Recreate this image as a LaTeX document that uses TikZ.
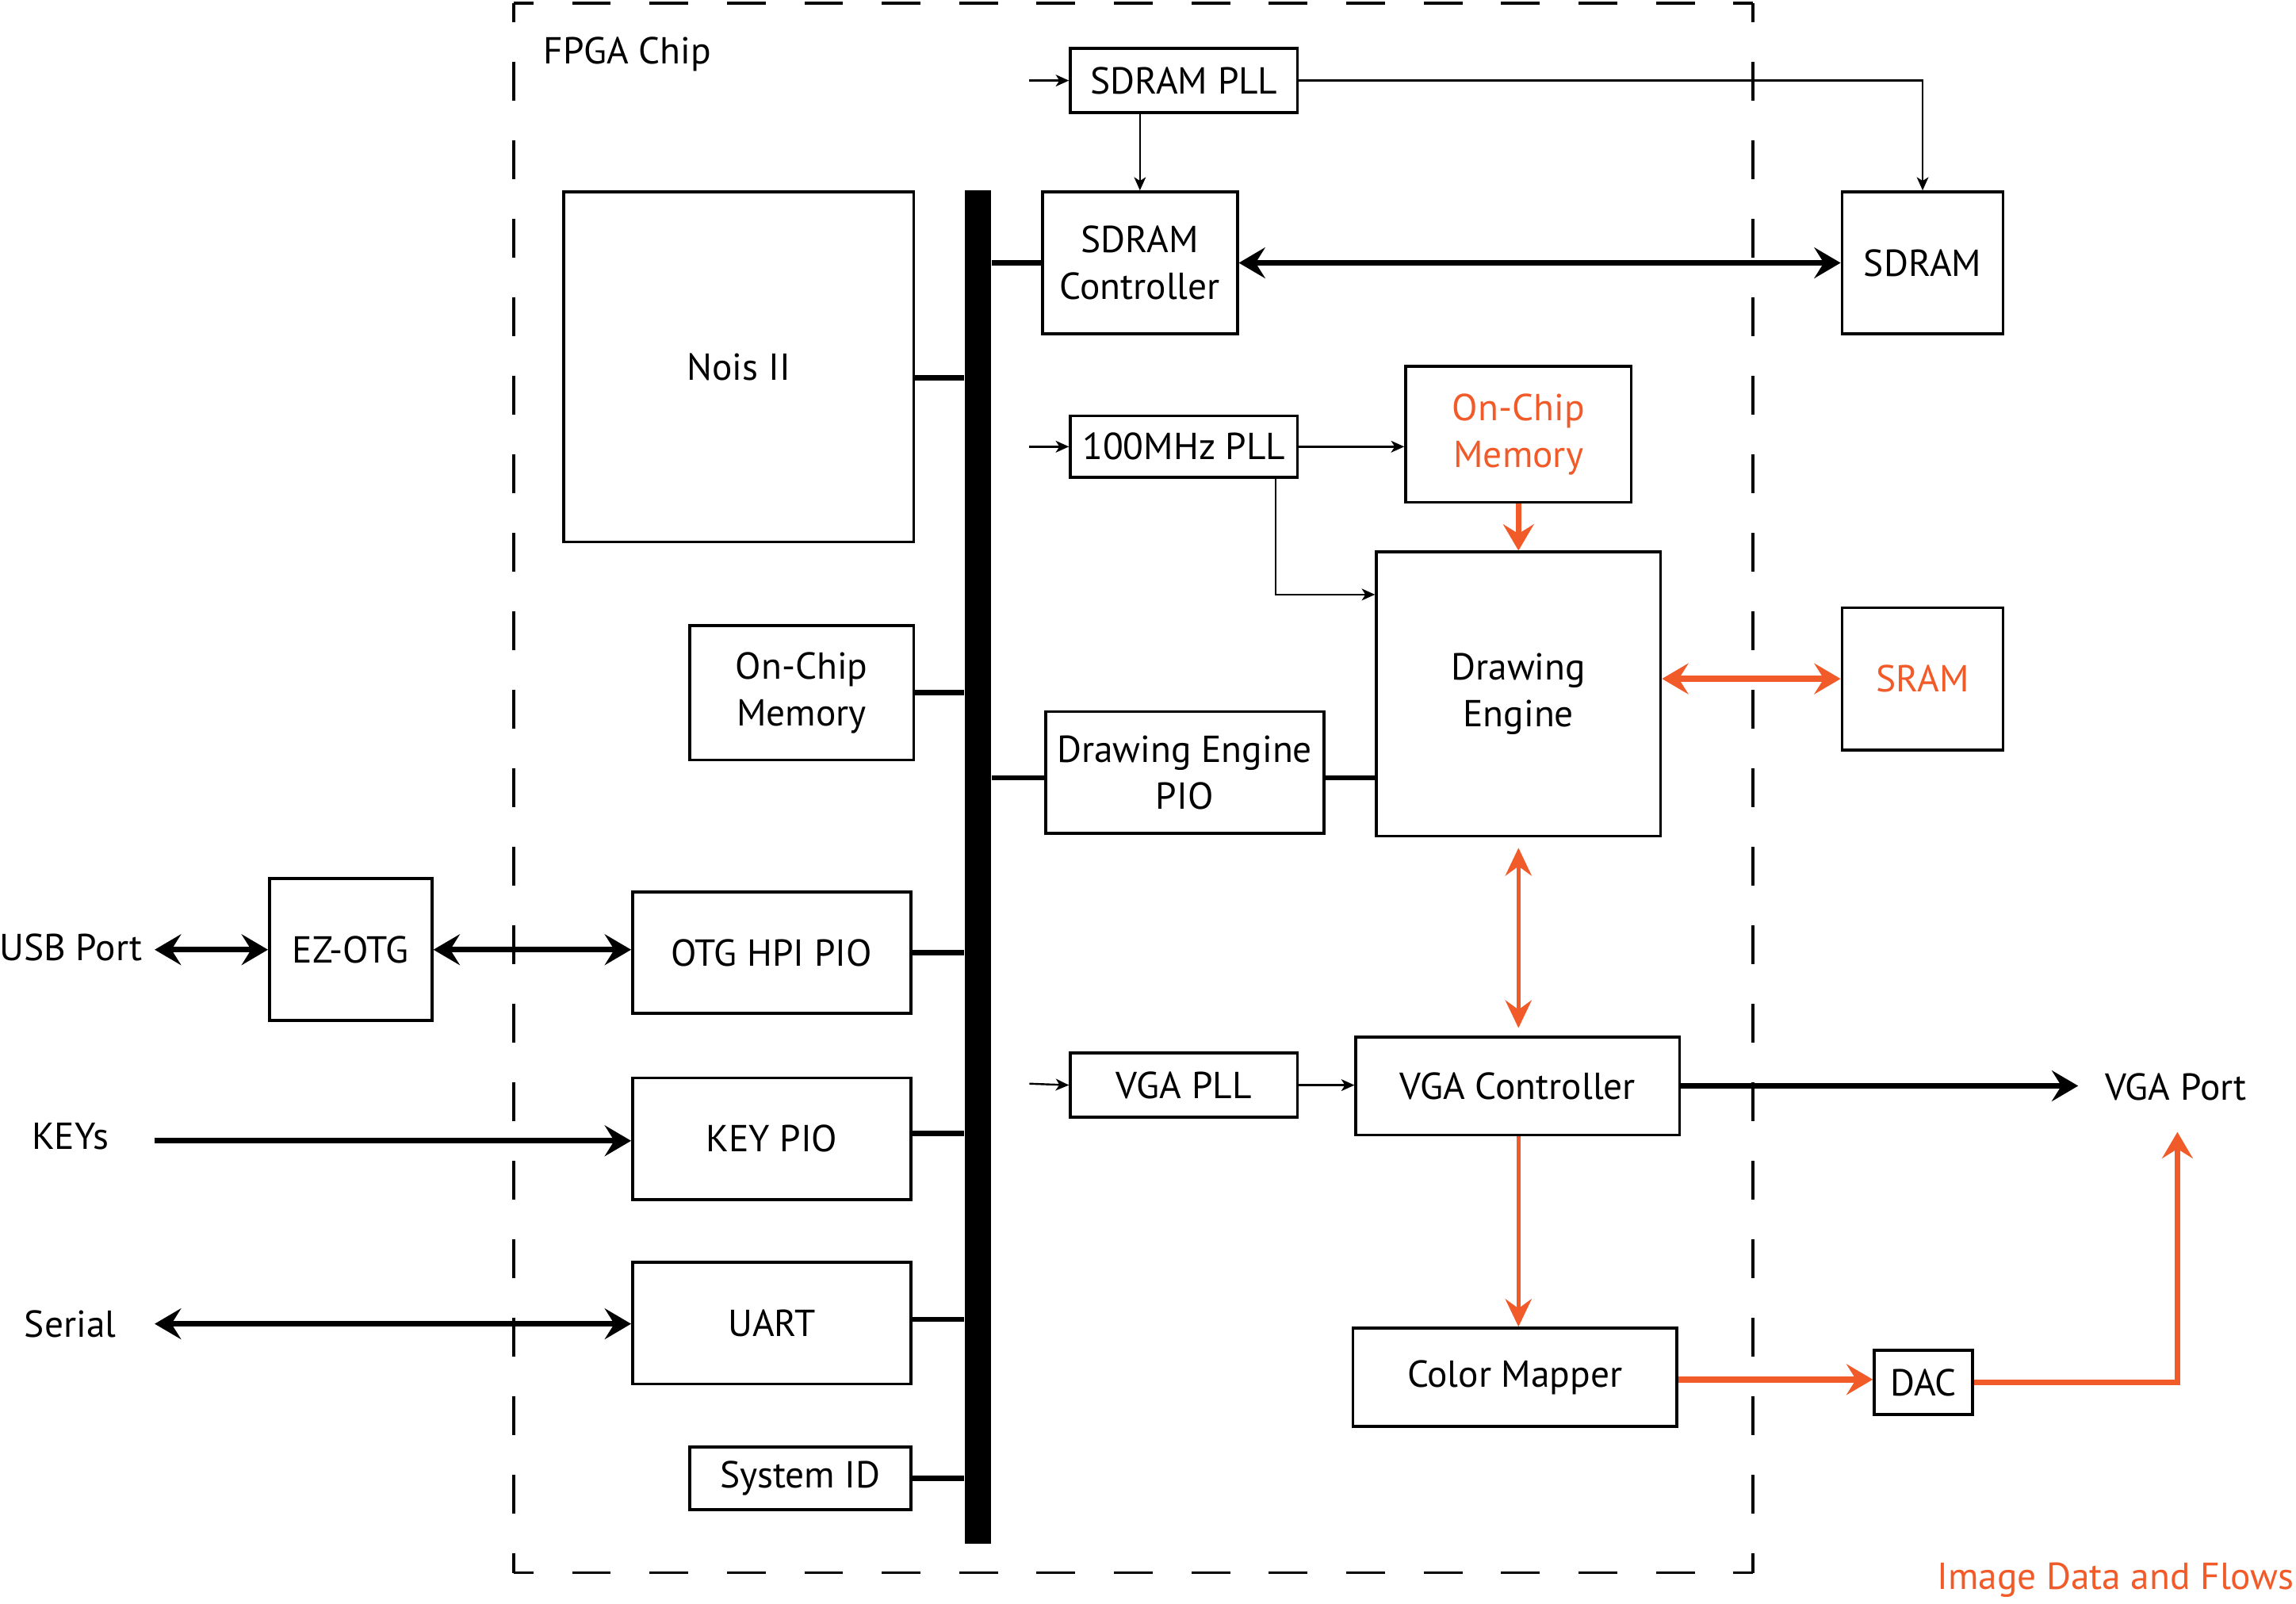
\documentclass[tikz,border=0pt]{standalone}
\usepackage{fontspec}
\setmainfont{PT Sans}
\usetikzlibrary{arrows.meta}
\definecolor{flow}{RGB}{241,90,41}
\begin{document}
\begin{tikzpicture}[x=0.2mm,y=-0.2mm,
  font=\fontsize{14.6}{18.2}\selectfont,
  blk/.style={draw,line width=0.4mm,align=center,inner sep=0pt},
  lbl/.style={inner sep=1.6mm},
  busbar/.style={fill=black,draw=none,inner sep=0pt},
  stub/.style={line width=0.7mm},
  hside/.style={line width=0.4mm,dash pattern=on 5.2875mm off 5.2875mm,dash phase=2.644mm},
  vside/.style={line width=0.4mm,dash pattern=on 5.36mm off 5.36mm,dash phase=2.68mm},
  clk/.style={line width=0.26mm,>={Stealth[length=1.8mm,width=1.6mm,inset=0.5mm]},->},
  sig/.style={line width=0.8mm,>={Stealth[length=3.6mm,width=4.2mm,inset=1.3mm]}},
  img/.style={draw=flow,line width=0.8mm,>={Stealth[length=3.6mm,width=4.2mm,inset=1.3mm]}},
  imgthin/.style={draw=flow,line width=0.55mm,>={Stealth[length=3.8mm,width=3.6mm,inset=1.3mm]}}
]
\useasboundingbox (0,0) rectangle (1568,1095);

% FPGA boundary, each side dashed so that the corners are solid
\coordinate (fTL) at (351,2);
\coordinate (fTR) at (1197,2);
\coordinate (fBR) at (1197,1074);
\coordinate (fBL) at (351,1074);
\draw[hside] (fTL) -- (fTR);
\draw[hside] (fBL) -- (fBR);
\draw[vside] (fTL) -- (fBL);
\draw[vside] (fTR) -- (fBR);
\node[lbl,anchor=west] (chip) at (363,37) {FPGA Chip};

% system bus
\node[busbar,minimum width=3.6mm,minimum height=184.8mm] (bus) at (668,592) {};

% blocks inside the FPGA
\node[blk,minimum width=31mm,minimum height=8.8mm] (sdrampll) at (808.5,55) {SDRAM PLL};
\node[blk,minimum width=26.6mm,minimum height=19.4mm] (sdramctl) at (778.5,179.5) {SDRAM\\Controller};
\node[blk,minimum width=47.8mm,minimum height=47.8mm] (nios) at (504.5,250.5) {Nois II};
\node[blk,minimum width=30.6mm,minimum height=18.4mm] (ocmA) at (547.5,473) {On-Chip\\Memory};
\node[blk,minimum width=38mm,minimum height=16.6mm] (depio) at (809,527.5) {Drawing Engine\\PIO};
\node[blk,minimum width=31mm,minimum height=8.4mm] (pllhund) at (808.5,305) {100MHz PLL};
\node[blk,minimum width=30.8mm,minimum height=18.6mm,text=flow] (ocmB) at (1037,296.5) {On-Chip\\Memory};
\node[blk,minimum width=38.8mm,minimum height=38.8mm] (de) at (1037,474) {Drawing\\Engine};
\node[blk,minimum width=38mm,minimum height=16.6mm] (otg) at (527,650.5) {OTG HPI PIO};
\node[blk,minimum width=38mm,minimum height=16.6mm] (keypio) at (527,777.5) {KEY PIO};
\node[blk,minimum width=38mm,minimum height=16.6mm] (uart) at (527,903.5) {UART};
\node[blk,minimum width=30.2mm,minimum height=8.6mm] (sysid) at (546.5,1009.5) {System ID};
\node[blk,minimum width=31mm,minimum height=8.8mm] (vgapll) at (808.5,741) {VGA PLL};
\node[blk,minimum width=44.2mm,minimum height=13.4mm] (vgactl) at (1036.5,741.5) {VGA Controller};
\node[blk,minimum width=44.2mm,minimum height=13.4mm] (cmap) at (1034.5,940.5) {Color Mapper};

% blocks outside the FPGA
\node[blk,minimum width=22mm,minimum height=19.4mm] (sdram) at (1313,179.5) {SDRAM};
\node[blk,minimum width=22mm,minimum height=19.4mm,text=flow] (sram) at (1313,463.5) {SRAM};
\node[blk,minimum width=22.2mm,minimum height=19.4mm] (ezotg) at (239.5,648.5) {EZ-OTG};
\node[blk,minimum width=13.4mm,minimum height=8.8mm] (dac) at (1313.5,944) {DAC};

% external ports
\node[lbl] (usbport) at (48.5,647) {USB Port};
\node[lbl] (keys) at (48,776) {KEYs};
\node[lbl] (serial) at (48,904) {Serial};
\node[lbl] (vgaport) at (1486,742) {VGA Port};
\node[inner sep=0pt,anchor=east,text=flow] (legend) at (1567,1079) {Image Data and Flows};

% clock inputs
\coordinate (clkA) at (703,55);
\coordinate (clkB) at (703,305);
\coordinate (clkC) at (703,740);
\draw[clk] (clkA) -- (sdrampll.west);
\draw[clk] (clkB) -- (pllhund.west);
\draw[clk] (clkC) -- (vgapll.west);

% clock distribution
\draw[clk] (sdrampll.east) -| (sdram.north);
\draw[clk] (sdramctl.north |- sdrampll.south) -- (sdramctl.north);
\draw[clk] (pllhund.east) -- (ocmB.west |- pllhund.east);
\draw[clk] ([xshift=-3.2mm]pllhund.south east) |- (de.west |- 0,406);
\draw[clk] (vgapll.east) -- (vgactl.west |- vgapll.east);

% bus taps
\draw[stub] (bus.east |- sdramctl.west) -- (sdramctl.west);
\draw[stub] (nios.east |- 0,258) -- (bus.west |- 0,258);
\draw[stub] (ocmA.east) -- (bus.west |- ocmA.east);
\draw[stub] (bus.east |- 0,531) -- (depio.west |- 0,531);
\draw[stub] (depio.east |- 0,531) -- (de.west |- 0,531);
\draw[stub] (otg.east) -- (bus.west |- otg.east);
\draw[stub] (keypio.east |- 0,774) -- (bus.west |- 0,774);
\draw[stub] (uart.east |- 0,901) -- (bus.west |- 0,901);
\draw[stub] (sysid.east) -- (bus.west |- sysid.east);

% control and I/O signals
\draw[sig,<->] (sdramctl.east) -- (sdram.west);
\draw[sig,<->] (usbport.east |- ezotg.west) -- (ezotg.west);
\draw[sig,<->] (ezotg.east) -- (otg.west |- ezotg.east);
\draw[sig,->] (usbport.east |- 0,779) -- (keypio.west |- 0,779);
\draw[sig,<->] (usbport.east |- 0,904) -- (uart.west |- 0,904);
\draw[sig,->,shorten >=2mm] (vgactl.east) -- (vgaport.west |- vgactl.east);

% image data paths
\draw[img,->] (ocmB.south) -- (de.north);
\draw[img,<->] (de.east |- sram.west) -- (sram.west);
\draw[imgthin,<->,shorten <=1.4mm,shorten >=1mm] (de.south) -- (de.south |- vgactl.north);
\draw[imgthin,->] (vgactl.south -| de.south) -- (de.south |- cmap.north);
\draw[img,->] (cmap.east |- 0,942) -- (dac.west |- 0,942);
\coordinate (vgain) at (1487,773);
\draw[img,->] (dac.east) -| (vgain);
\end{tikzpicture}
\end{document}
